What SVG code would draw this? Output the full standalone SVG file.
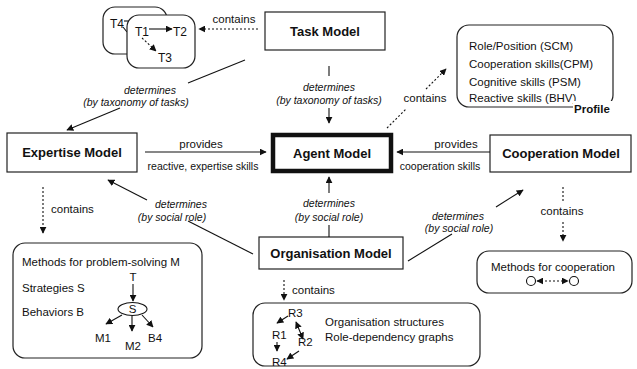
<svg xmlns="http://www.w3.org/2000/svg" width="637" height="369" viewBox="0 0 637 369">
  <defs>
    <marker id="arr" viewBox="0 0 10 10" refX="9" refY="5" markerWidth="7" markerHeight="7" markerUnits="userSpaceOnUse" orient="auto">
      <path d="M0,0 L10,5 L0,10 z" fill="#111"/>
    </marker>
    <marker id="arrs" viewBox="0 0 10 10" refX="1" refY="5" markerWidth="7" markerHeight="7" markerUnits="userSpaceOnUse" orient="auto">
      <path d="M10,0 L0,5 L10,10 z" fill="#111"/>
    </marker>
    <style>
      text { font-family: "Liberation Sans", Arial, sans-serif; fill: #111; }
      .lbl { font-size: 13px; font-weight: bold; text-anchor: middle; }
      .t { font-size: 11.5px; }
      .tk { font-size: 12px; }
      .c { text-anchor: middle; }
      .it { font-size: 10.5px; font-style: italic; text-anchor: middle; }
      .sm { font-size: 10.5px; text-anchor: middle; }
      .box { fill: #fff; stroke: #222; stroke-width: 1.2; }
      .rbox { fill: #fff; stroke: #222; stroke-width: 1.2; }
      .ln { fill: none; stroke: #111; stroke-width: 1.1; }
      .dot { fill: none; stroke: #111; stroke-width: 1.1; stroke-dasharray: 2 2; }
    </style>
  </defs>

  <!-- main model nodes -->
  <g id="task-model">
    <rect class="box" x="265" y="12" width="120" height="38"/>
    <text class="lbl" x="325" y="36">Task Model</text>
  </g>
  <g id="agent-model">
    <rect x="273" y="135" width="118" height="36" fill="#fff" stroke="#111" stroke-width="4.5"/>
    <text class="lbl" x="332" y="158">Agent Model</text>
  </g>
  <g id="expertise-model">
    <rect class="box" x="7" y="133" width="130" height="39"/>
    <text class="lbl" x="72" y="157">Expertise Model</text>
  </g>
  <g id="cooperation-model">
    <rect class="box" x="490" y="135" width="141" height="37"/>
    <text class="lbl" x="561" y="158">Cooperation Model</text>
  </g>
  <g id="organisation-model">
    <rect class="box" x="259" y="237" width="144" height="32"/>
    <text class="lbl" x="331" y="258">Organisation Model</text>
  </g>

  <!-- task decomposition boxes -->
  <g id="tasks">
    <rect class="rbox" x="103" y="7" width="64" height="47" rx="12"/>
    <text class="tk" x="110" y="28">T4</text>
    <line class="ln" x1="124" y1="21" x2="131" y2="21"/>
    <line class="ln" x1="123" y1="27" x2="127" y2="32"/>
    <rect class="rbox" x="127" y="15" width="68" height="53" rx="12"/>
    <text class="tk" x="135" y="36">T1</text>
    <text class="tk" x="173" y="36">T2</text>
    <text class="tk" x="158" y="62">T3</text>
    <line class="ln" x1="149" y1="29" x2="172" y2="29" marker-end="url(#arr)"/>
    <line class="dot" x1="142" y1="38" x2="156" y2="51" marker-end="url(#arr)"/>
  </g>

  <!-- profile -->
  <g id="profile">
    <rect class="rbox" x="457" y="25" width="156" height="82" rx="12"/>
    <text class="t" x="469" y="50">Role/Position (SCM)</text>
    <text class="t" x="469" y="68">Cooperation skills(CPM)</text>
    <text class="t" x="469" y="86">Cognitive skills (PSM)</text>
    <text class="t" x="469" y="102">Reactive skills (BHV)</text>
    <rect x="573" y="101" width="44" height="14" fill="#fff"/>
    <text class="t" x="574" y="113" font-weight="bold">Profile</text>
  </g>

  <!-- problem-solving methods -->
  <g id="methods-problem-solving">
    <rect class="rbox" x="13" y="243" width="189" height="115" rx="12"/>
    <text class="t" x="22" y="266">Methods for problem-solving M</text>
    <text class="t" x="22" y="292">Strategies S</text>
    <text class="t" x="22" y="316">Behaviors B</text>
    <text class="t c" x="133" y="281">T</text>
    <line class="ln" x1="133" y1="284" x2="133" y2="301" marker-end="url(#arr)"/>
    <ellipse cx="132.5" cy="309" rx="14.5" ry="6.5" fill="#fff" stroke="#111" stroke-width="1.1"/>
    <text class="t c" x="132.5" y="313">S</text>
    <line class="ln" x1="122" y1="315" x2="106" y2="324" marker-end="url(#arr)"/>
    <line class="ln" x1="132" y1="316" x2="132" y2="331" marker-end="url(#arr)"/>
    <line class="ln" x1="142" y1="315" x2="153" y2="327" marker-end="url(#arr)"/>
    <text class="t" x="95" y="342">M1</text>
    <text class="t" x="125" y="350">M2</text>
    <text class="t" x="148" y="342">B4</text>
  </g>

  <!-- organisation structures -->
  <g id="org-structures">
    <rect class="rbox" x="253" y="303" width="227" height="63" rx="12"/>
    <text class="t" x="288" y="317">R3</text>
    <text class="t" x="272" y="339">R1</text>
    <text class="t" x="298" y="346">R2</text>
    <text class="t" x="272" y="366">R4</text>
    <line class="ln" x1="288" y1="316" x2="277" y2="323" marker-end="url(#arr)"/>
    <line class="ln" x1="296" y1="322" x2="303" y2="339" marker-start="url(#arrs)" marker-end="url(#arr)"/>
    <line class="ln" x1="277" y1="342" x2="277" y2="351" marker-end="url(#arr)"/>
    <line class="ln" x1="299" y1="351" x2="287" y2="359" marker-end="url(#arr)"/>
    <text class="t" x="325" y="326">Organisation structures</text>
    <text class="t" x="325" y="341">Role-dependency graphs</text>
  </g>

  <!-- cooperation methods -->
  <g id="methods-cooperation">
    <rect class="rbox" x="477" y="251" width="155" height="42" rx="12"/>
    <text class="t c" x="553" y="271">Methods for cooperation</text>
    <circle cx="531" cy="281" r="4.5" fill="#fff" stroke="#111" stroke-width="1.1"/>
    <circle cx="574" cy="281" r="4.5" fill="#fff" stroke="#111" stroke-width="1.1"/>
    <line class="dot" x1="537" y1="281" x2="568" y2="281" marker-start="url(#arrs)" marker-end="url(#arr)"/>
  </g>

  <!-- connectors -->
  <g id="connectors">
    <!-- task model -> task boxes -->
    <line class="dot" x1="258" y1="29" x2="199" y2="29" marker-end="url(#arr)"/>
    <text class="t c" x="234" y="23">contains</text>

    <!-- task model -> agent model -->
    <line class="ln" x1="329" y1="66" x2="329" y2="76"/>
    <text class="it" x="329" y="91">determines</text>
    <text class="it" x="329" y="104">(by taxonomy of tasks)</text>
    <line class="ln" x1="329" y1="108" x2="329" y2="123" marker-end="url(#arr)"/>

    <!-- task model -> expertise model -->
    <line class="ln" x1="245" y1="60" x2="188" y2="83"/>
    <text class="it" x="150" y="94">determines</text>
    <text class="it" x="136" y="106">(by taxonomy of tasks)</text>
    <line class="ln" x1="120" y1="108" x2="67" y2="130" marker-end="url(#arr)"/>

    <!-- agent model -> profile -->
    <line class="dot" x1="387" y1="128" x2="406" y2="109"/>
    <text class="t c" x="425" y="102">contains</text>
    <line class="dot" x1="426" y1="89" x2="446" y2="69" marker-end="url(#arr)"/>

    <!-- expertise -> agent -->
    <line class="ln" x1="145" y1="152" x2="266" y2="152" marker-end="url(#arr)"/>
    <text class="t c" x="201" y="148">provides</text>
    <text class="sm" x="203" y="170">reactive, expertise skills</text>

    <!-- cooperation -> agent -->
    <line class="ln" x1="490" y1="152" x2="397" y2="152" marker-end="url(#arr)"/>
    <text class="t c" x="456" y="148">provides</text>
    <text class="sm" x="440" y="170">cooperation skills</text>

    <!-- organisation -> agent -->
    <line class="ln" x1="329" y1="237" x2="329" y2="225"/>
    <text class="it" x="329" y="207">determines</text>
    <text class="it" x="329" y="221">(by social role)</text>
    <line class="ln" x1="329" y1="193" x2="329" y2="177" marker-end="url(#arr)"/>

    <!-- organisation -> expertise -->
    <line class="ln" x1="253" y1="254" x2="188" y2="221"/>
    <text class="it" x="181" y="208">determines</text>
    <text class="it" x="172" y="221">(by social role)</text>
    <line class="ln" x1="147" y1="200" x2="108" y2="180" marker-end="url(#arr)"/>

    <!-- organisation -> cooperation -->
    <line class="ln" x1="408" y1="261" x2="452" y2="234"/>
    <text class="it" x="458" y="220">determines</text>
    <text class="it" x="459" y="232">(by social role)</text>
    <line class="ln" x1="496" y1="207" x2="523" y2="190" marker-end="url(#arr)"/>

    <!-- expertise -> problem-solving methods -->
    <line class="dot" x1="43" y1="187" x2="43" y2="233" marker-end="url(#arr)"/>
    <text class="t" x="51" y="213">contains</text>

    <!-- organisation -> structures -->
    <line class="dot" x1="284" y1="280" x2="284" y2="300" marker-end="url(#arr)"/>
    <text class="t" x="292" y="294">contains</text>

    <!-- cooperation -> cooperation methods -->
    <line class="dot" x1="563" y1="187" x2="563" y2="201"/>
    <text class="t c" x="562" y="215">contains</text>
    <line class="dot" x1="563" y1="222" x2="563" y2="241" marker-end="url(#arr)"/>
  </g>
</svg>
